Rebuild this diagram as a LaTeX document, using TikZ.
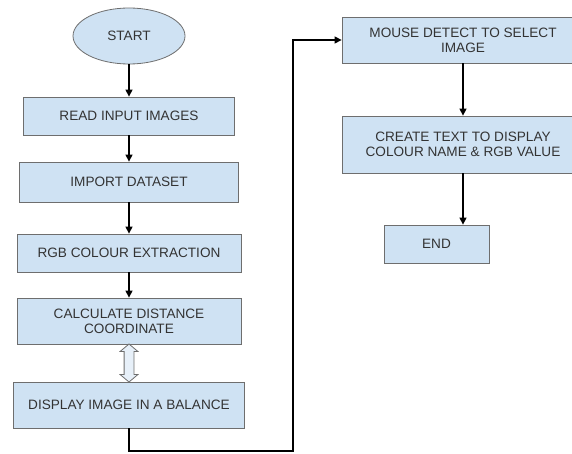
\documentclass[tikz,border=0pt]{standalone}
\usepackage{fontspec}
\setmainfont{Liberation Sans}
\usetikzlibrary{arrows.meta,calc,positioning,shapes.geometric,shapes.arrows}

\definecolor{boxblue}{HTML}{CFE2F3}
\definecolor{boxline}{HTML}{6E6E6E}
\definecolor{boxtext}{HTML}{333333}

\begin{document}
\begin{tikzpicture}[%
    x=1pt, y=-1pt,
    >={Triangle[length=7pt,width=7pt]},
    node distance=70pt,
    on grid,
    step box/.style={rectangle, draw=boxline, fill=boxblue, line width=0.8pt,
      text=boxtext, align=center, inner sep=2pt,
      font=\fontsize{13.6}{15}\selectfont},
    flow/.style={->, line width=1.3pt}
  ]
    \useasboundingbox (0,0) rectangle (572,454);

    % left column
    \node[step box, ellipse, minimum width=112pt, minimum height=56pt] (start) at (129,36) {START};
    \node[step box, minimum width=211pt, minimum height=38pt] (read) [below=80pt of start] {READ INPUT IMAGES};
    \node[step box, minimum width=219pt, minimum height=40pt] (import) [below=66pt of read] {IMPORT DATASET};
    \node[step box, minimum width=224pt, minimum height=38pt] (rgb) [below=71pt of import] {RGB COLOUR EXTRACTION};
    \node[step box, minimum width=224pt, minimum height=46pt] (dist) [below=68pt of rgb] {CALCULATE DISTANCE\\COORDINATE};
    \node[step box, minimum width=231pt, minimum height=46pt] (display) [below=84pt of dist] {DISPLAY IMAGE IN A BALANCE};

    % right column
    \node[step box, minimum width=242pt, minimum height=46pt] (mouse) at (463,40) {MOUSE DETECT TO SELECT\\IMAGE};
    \node[step box, minimum width=242pt, minimum height=57pt] (create) [below=104.5pt of mouse] {CREATE TEXT TO DISPLAY\\COLOUR NAME \& RGB VALUE};
    \node[step box, minimum width=105pt, minimum height=38pt] (end) [below=99.5pt of create, xshift=-26.5pt] {END};

    \coordinate (bend) at (293,451);

    \draw[flow] (start) -- (read);
    \draw[flow] (read) -- (import);
    \draw[flow] (import) -- (rgb);
    \draw[flow] (rgb) -- (dist);
    \node[double arrow, draw=boxline, fill=boxblue!50, line width=0.8pt, rotate=90,
      minimum height=38pt, minimum width=17pt, inner sep=4.5pt,
      double arrow head extend=4pt, double arrow tip angle=100] (link) at ($(dist.south)!0.5!(display.north)$) {};
    \draw[flow] (display.south) |- (bend) |- (mouse.west);
    \draw[flow] (mouse) -- (create);
    \draw[flow] (create.south) -- (create.south |- end.north);
  \end{tikzpicture}
\end{document}
